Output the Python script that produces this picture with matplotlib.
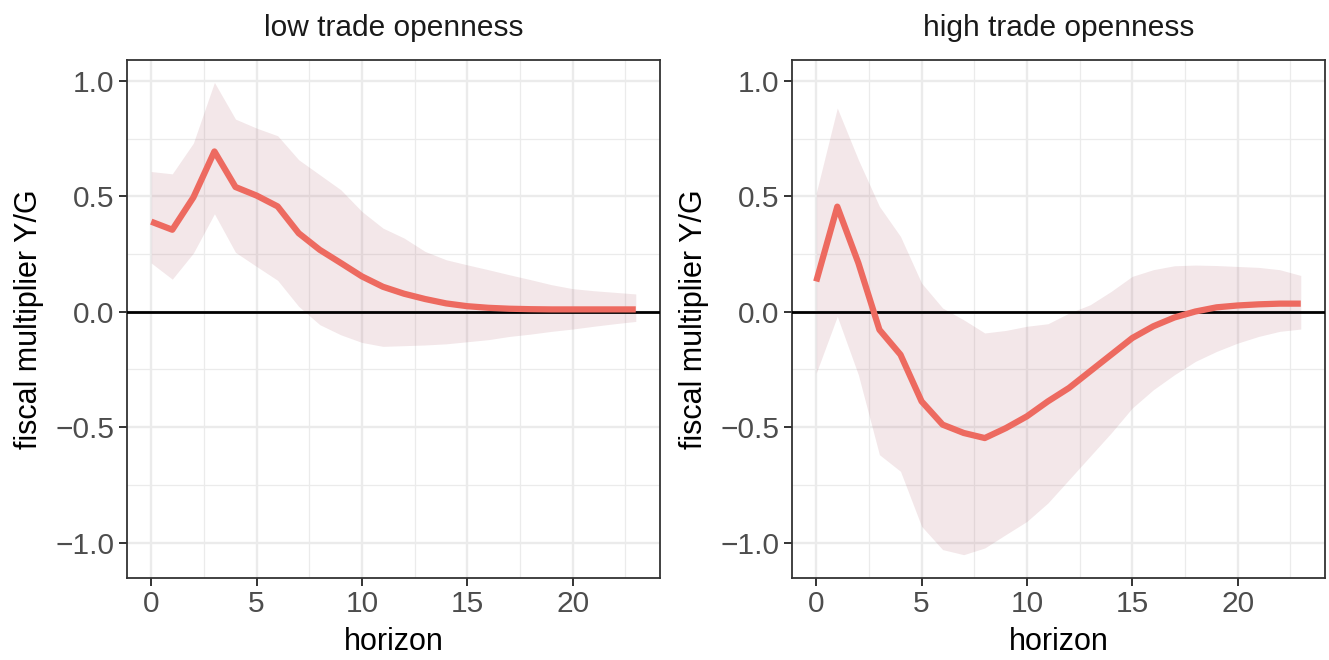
import matplotlib
matplotlib.use("Agg")
import matplotlib.pyplot as plt
from matplotlib.ticker import MultipleLocator

plt.rcParams["font.family"] = ["Liberation Sans", "DejaVu Sans"]

horizon = list(range(24))

# low trade openness: point estimate and confidence band
low_mid = [0.39, 0.355, 0.495, 0.694, 0.54, 0.503, 0.456, 0.34, 0.268, 0.211,
           0.153, 0.108, 0.078, 0.055, 0.036, 0.024, 0.017, 0.013, 0.011, 0.01,
           0.01, 0.01, 0.01, 0.01]
low_hi = [0.607, 0.597, 0.73, 0.993, 0.834, 0.795, 0.762, 0.658, 0.593, 0.528,
          0.434, 0.362, 0.319, 0.261, 0.225, 0.203, 0.182, 0.16, 0.139, 0.117,
          0.10, 0.091, 0.084, 0.077]
low_lo = [0.211, 0.141, 0.254, 0.424, 0.257, 0.196, 0.136, 0.023, -0.056, -0.1,
          -0.133, -0.15, -0.147, -0.144, -0.139, -0.13, -0.121, -0.107, -0.097,
          -0.085, -0.075, -0.063, -0.052, -0.042]

# high trade openness: point estimate and confidence band
high_mid = [0.131, 0.455, 0.211, -0.078, -0.186, -0.388, -0.489, -0.525, -0.547,
            -0.504, -0.453, -0.388, -0.33, -0.258, -0.186, -0.114, -0.063,
            -0.025, 0.001, 0.019, 0.027, 0.032, 0.035, 0.035]
high_hi = [0.514, 0.882, 0.658, 0.456, 0.326, 0.124, 0.016, -0.035, -0.092,
           -0.081, -0.063, -0.052, -0.006, 0.03, 0.088, 0.153, 0.182, 0.199,
           0.202, 0.2, 0.196, 0.192, 0.182, 0.157]
high_lo = [-0.266, -0.02, -0.273, -0.619, -0.691, -0.929, -1.03, -1.052, -1.023,
           -0.965, -0.908, -0.828, -0.727, -0.626, -0.525, -0.417, -0.338,
           -0.273, -0.215, -0.172, -0.136, -0.107, -0.085, -0.075]

panel_titles = ["low trade openness", "high trade openness"]
x_ticks = [0, 5, 10, 15, 20]
y_ticks = [-1.0, -0.5, 0.0, 0.5, 1.0]
y_tick_labels = ["\u22121.0", "\u22120.5", "0.0", "0.5", "1.0"]

W, H = 1329, 660
fig = plt.figure(figsize=(W / 100, H / 100), dpi=100)

panels = [
    (127, low_mid, low_lo, low_hi),
    (792, high_mid, high_lo, high_hi),
]

FS = 21.5
for (left_px, mid, lo, hi), title in zip(panels, panel_titles):
    ax = fig.add_axes([left_px / W, 1 - 578 / H, 533 / W, 518 / H])
    ax.set_xlim(-1.15, 24.15)
    ax.set_ylim(-1.153, 1.09)

    ax.xaxis.set_major_locator(MultipleLocator(5))
    ax.xaxis.set_minor_locator(MultipleLocator(2.5))
    ax.yaxis.set_major_locator(MultipleLocator(0.5))
    ax.yaxis.set_minor_locator(MultipleLocator(0.25))
    ax.grid(which="major", color="#EBEBEB", linewidth=1.7, zorder=0)
    ax.grid(which="minor", color="#EBEBEB", linewidth=0.9, zorder=0)
    ax.set_axisbelow(True)

    ax.fill_between(horizon, lo, hi, color="#B0606E", alpha=0.15,
                    linewidth=0, zorder=2)
    ax.axhline(0, color="black", linewidth=2.0, zorder=3)
    ax.plot(horizon, mid, color="#ED6A60", linewidth=4.5,
            solid_capstyle="butt", solid_joinstyle="round", zorder=4)

    ax.set_xticks(x_ticks)
    ax.set_xticklabels([str(v) for v in x_ticks])
    ax.set_yticks(y_ticks)
    ax.set_yticklabels(y_tick_labels)
    ax.tick_params(which="major", length=5.5, width=1.4, color="#333333",
                   labelcolor="#4D4D4D", labelsize=FS, pad=3.5)
    ax.tick_params(which="minor", length=0)
    for sp in ax.spines.values():
        sp.set_color("#333333")
        sp.set_linewidth(1.3)

    ax.set_title(title, fontsize=FS, color="#1A1A1A", pad=17)
    ax.set_xlabel("horizon", fontsize=FS + 0.5, color="black")
    ax.set_ylabel("fiscal multiplier Y/G", fontsize=FS + 0.5, color="black")
    ax.xaxis.set_label_coords(0.5, -0.123)
    ax.yaxis.set_label_coords(-0.184, 0.5)
    ax.xaxis.label.set_va("center")
    ax.yaxis.label.set_va("center")

fig.savefig("out.png", dpi=100, facecolor="white")
